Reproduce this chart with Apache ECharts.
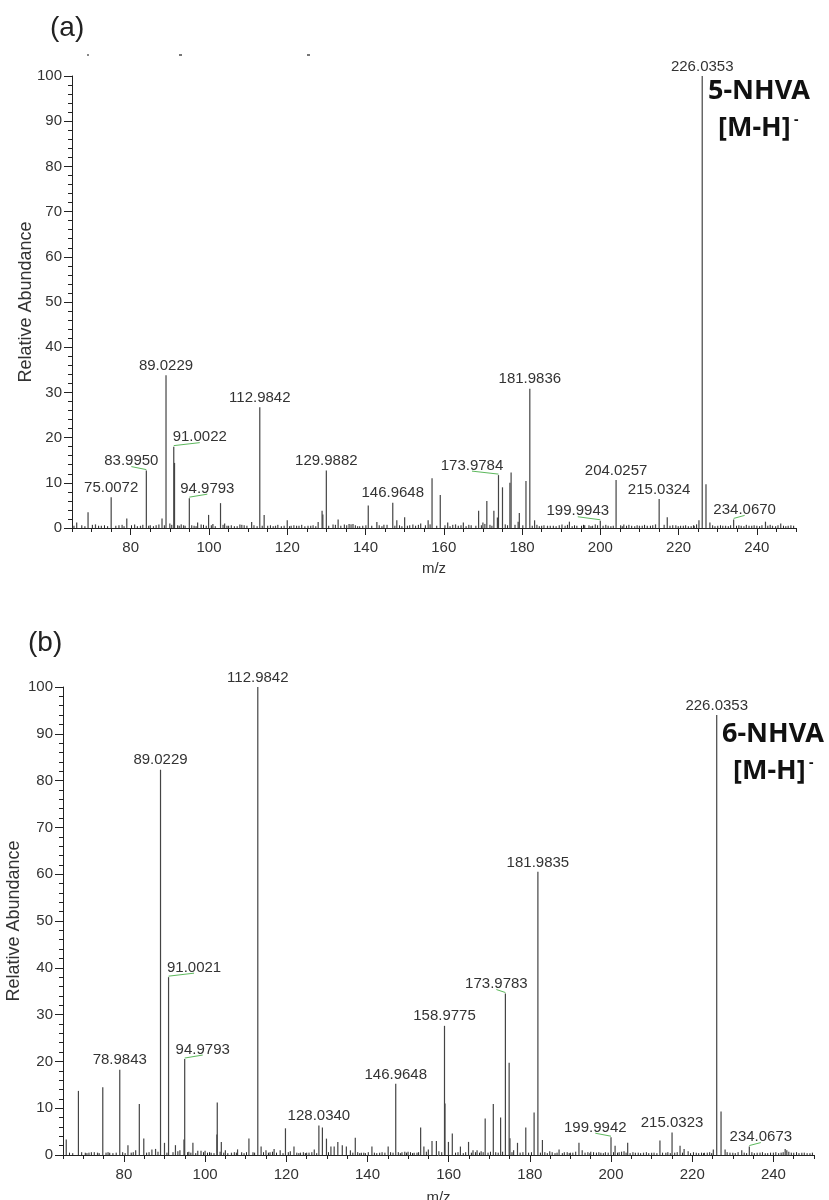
<!DOCTYPE html>
<html>
<head>
<meta charset="utf-8">
<script src="https://cdn.jsdelivr.net/npm/echarts@6/dist/echarts.min.js"></script>
<style>
html,body{margin:0;padding:0;background:#fff;}
#chart{width:829px;height:1200px;}
</style>
</head>
<body>
<div id="chart"></div>
<script>
// ---------- DATA ----------
const xTickLabels = [80, 100, 120, 140, 160, 180, 200, 220, 240];

// Panel (a): 5-NHVA  [m/z, relative abundance]
const peaksA = [
  [66.2,1.2],[69.1,3.5],[71.0,0.8],[72.5,0.5],[75.0072,6.8],[77.0,0.6],[79.0,2.1],[81.0,0.8],[82.5,0.5],
  [83.9950,12.7],[85.0,0.6],[86.5,0.6],[87.2,0.8],[88.0,2.1],[89.0229,33.8],[90.0,1.0],[91.0022,18.0],[91.2,14.4],
  [92.4,0.5],[93.5,0.6],[94.9793,6.6],[96.2,0.5],[97.1,1.2],[98.0,0.8],[99.9,2.9],[101.0,0.9],[102.95,5.5],
  [104.0,1.0],[105.0,0.5],[106.5,0.4],[107.9,0.8],[109.0,0.6],[110.9,1.3],[112.9842,26.7],[114.1,2.9],[115.0,0.5],
  [117.0,0.5],[118.5,0.4],[120.0,1.7],[121.0,0.5],[123.0,0.5],[124.5,0.4],[126.0,0.5],[127.9,1.3],[128.9,3.8],
  [129.1,3.0],[129.9882,12.7],[131.7,0.8],[133.0,1.9],[134.6,0.8],[135.8,0.9],[136.8,0.9],[138.5,0.4],[140.7,5.0],
  [142.9,1.3],[144.7,0.7],[146.9648,5.6],[148.0,1.7],[150.0,2.4],[152.1,0.8],[154.1,1.0],[156.0,1.7],[157.0,11.0],
  [159.1,7.3],[161.0,1.2],[163.0,0.8],[165.0,1.2],[167.0,0.6],[168.9,3.8],[170.0,1.2],[171.0,6.0],[172.8,3.8],
  [173.7,2.3],[173.9784,11.7],[175.0,9.0],[176.9,10.0],[177.2,12.3],[179.0,1.4],[179.3,3.3],[181.0,10.4],
  [181.9836,30.8],[183.2,1.7],[185.0,0.5],[186.5,0.5],[188.0,0.5],[190.2,0.8],[192.1,1.4],[194.0,0.5],[196.0,0.6],
  [198.0,0.5],[199.9943,1.6],[202.0,0.5],[204.0257,10.6],[206.0,0.8],[208.0,0.5],[210.0,0.5],[212.0,0.5],
  [214.1,0.8],[215.0324,6.4],[217.1,2.4],[218.5,0.6],[220.5,0.5],[222.5,0.4],[224.0,0.5],[225.2,1.7],
  [226.0353,100],[227.0,9.7],[228.0,1.2],[230.0,0.5],[232.0,0.5],[234.0670,1.9],[236.0,0.5],[238.0,0.5],
  [240.0,0.5],[242.2,1.4],[244.0,0.5],[246.1,1.0],[248.0,0.5]
];
// baseline noise, panel (a)
const noiseA = [
  [65.5,0.5],[67.5,0.6],[68.3,0.4],[70.2,0.7],[71.8,0.5],[73.3,0.6],[74.1,0.4],[76.2,0.5],[77.8,0.7],[78.3,0.4],
  [80.2,0.6],[81.7,0.4],[83.1,0.7],[84.6,0.5],[85.8,0.4],[88.6,0.6],[90.5,0.7],[92.0,0.6],[92.9,0.8],[93.9,0.5],
  [95.6,0.6],[96.7,0.4],[98.6,0.7],[99.3,0.5],[100.6,0.6],[101.6,0.4],[103.6,0.7],[104.6,0.5],[105.7,0.6],[107.2,0.4],
  [108.4,0.7],[109.7,0.5],[111.5,0.6],[112.3,0.4],[113.6,0.5],[115.7,0.6],[116.4,0.4],[117.6,0.7],[119.2,0.5],
  [120.6,0.4],[121.7,0.6],[122.4,0.5],[123.7,0.7],[125.3,0.5],[126.6,0.6],[127.3,0.4],[130.6,0.5],[132.3,0.7],
  [133.7,0.5],[135.2,0.6],[136.3,0.8],[137.4,0.6],[138.0,0.4],[139.3,0.5],[140.1,0.6],[141.6,0.5],[143.5,0.6],
  [144.2,0.4],[145.5,0.7],[147.5,0.5],[148.7,0.6],[149.3,0.4],[150.7,0.5],[151.3,0.6],[152.8,0.5],[153.5,0.7],
  [155.3,0.6],[156.5,0.8],[158.2,0.5],[160.3,0.6],[161.6,0.4],[162.3,0.7],[163.7,0.5],[164.4,0.6],[165.7,0.4],
  [166.4,0.7],[168.2,0.5],[169.6,0.6],[170.5,0.9],[171.8,0.7],[172.3,0.5],[175.7,0.8],[176.3,0.6],[178.2,0.7],
  [180.2,0.6],[182.6,0.5],[183.8,0.7],[184.4,0.4],[185.6,0.6],[187.2,0.5],[188.7,0.4],[189.5,0.6],[191.0,0.5],
  [191.6,0.7],[192.8,0.4],[193.4,0.6],[195.2,0.5],[195.7,0.7],[197.1,0.6],[197.6,0.4],[198.7,0.8],[199.3,0.6],
  [200.7,0.5],[201.4,0.7],[202.7,0.4],[203.3,0.5],[205.2,0.6],[205.6,0.4],[206.7,0.5],[207.3,0.7],[208.8,0.4],
  [209.4,0.6],[210.7,0.5],[211.3,0.7],[212.8,0.5],[213.4,0.6],[216.3,0.7],[217.8,0.5],[219.3,0.6],[219.9,0.4],
  [221.2,0.5],[221.8,0.6],[223.2,0.4],[223.8,0.6],[224.6,0.8],[228.7,0.6],[229.3,0.4],[230.7,0.6],[231.3,0.5],
  [232.7,0.4],[233.3,0.6],[234.8,0.5],[235.4,0.6],[236.7,0.4],[237.3,0.7],[238.7,0.5],[239.3,0.6],[240.7,0.4],
  [241.3,0.6],[242.8,0.5],[243.4,0.7],[244.8,0.4],[245.4,0.6],[246.8,0.5],[247.4,0.4],[248.7,0.6],[249.4,0.5]
];
const labelsA = [75.0072, 83.9950, 89.0229, 91.0022, 94.9793, 112.9842, 129.9882, 146.9648,
  173.9784, 181.9836, 199.9943, 204.0257, 215.0324, 226.0353, 234.0670];

// Panel (b): 6-NHVA
const peaksB = [
  [65.8,3.3],[68.8,13.7],[70.5,0.5],[72.0,0.6],[73.5,0.5],[74.8,14.5],[76.5,0.5],[78.9843,18.2],[81.0,2.1],
  [82.9,1.0],[83.8,10.9],[84.9,3.5],[86.9,1.2],[87.8,1.3],[89.0229,82.3],[90.0,2.6],[91.0021,38.0],[92.7,2.1],
  [93.8,1.0],[94.8,3.3],[94.9793,20.5],[96.0,0.7],[97.0,2.6],[98.2,0.9],[99.0,0.9],[100.0,0.9],[101.5,0.5],
  [102.9,4.4],[103.0,11.2],[104.0,2.8],[105.0,1.0],[106.5,0.5],[108.0,1.2],[109.0,0.6],[110.8,3.5],[111.8,0.6],
  [112.9842,100],[113.8,1.8],[115.0,1.0],[116.0,0.6],[117.0,1.3],[118.5,1.0],[119.8,5.7],[121.0,0.8],[121.9,1.8],
  [123.5,0.5],[125.0,0.5],[126.9,1.2],[128.0340,6.3],[128.9,5.9],[129.9,3.5],[131.0,1.8],[131.8,1.8],[132.7,2.8],
  [133.8,2.1],[134.8,1.8],[135.8,1.0],[137.0,3.7],[138.5,0.5],[139.5,0.4],[141.1,1.8],[143.0,0.5],[145.1,1.8],
  [146.9648,15.2],[148.5,0.6],[150.0,0.7],[151.5,0.5],[153.1,5.9],[153.9,1.8],[155.0,1.2],[155.9,3.0],[156.98,3.0],
  [158.9775,27.6],[159.1,11.0],[159.95,2.8],[160.9,4.6],[162.9,1.8],[164.9,2.8],[166.0,1.0],[167.0,1.0],[168.0,0.8],
  [169.0,7.8],[171.0,10.9],[172.8,8.0],[173.9783,34.5],[174.9,19.7],[175.1,3.6],[176.0,1.0],[176.96,2.6],[179.0,5.9],
  [181.05,9.1],[181.9835,60.5],[183.1,3.2],[184.9,0.8],[187.2,1.2],[188.5,0.6],[190.0,0.5],[192.1,2.6],[192.9,1.0],
  [195.0,0.7],[197.5,0.5],[199.9942,3.8],[201.0,2.0],[202.0,0.6],[203.2,0.8],[204.1,2.6],[206.0,0.5],[208.0,0.5],
  [210.0,0.5],[212.05,3.1],[213.5,0.5],[215.0323,4.8],[217.0,2.0],[218.0,1.3],[219.0,0.8],[221.0,0.5],[223.0,0.5],
  [225.2,1.2],[226.0353,94.0],[227.1,9.3],[228.1,1.2],[230.0,0.5],[232.2,1.0],[234.0673,1.8],[236.0,0.5],
  [238.0,0.4],[240.0,0.5],[242.9,1.3],[243.3,1.0],[245.0,0.5],[247.0,0.5],[249.0,0.4]
];
// baseline noise, panel (b)
const noiseB = [
  [66.6,0.5],[67.4,0.4],[69.6,0.6],[70.9,0.4],[71.4,0.5],[72.7,0.6],[73.9,0.4],[75.6,0.5],[76.1,0.6],[77.3,0.4],
  [78.1,0.5],[79.7,0.6],[80.3,0.4],[81.8,0.5],[82.3,0.6],[85.6,0.5],[86.2,0.6],[88.4,0.7],[90.6,0.5],[92.1,0.6],
  [93.3,0.8],[95.7,0.6],[96.5,0.5],[97.7,0.4],[99.6,0.6],[100.6,0.5],[101.1,0.6],[102.2,0.4],[103.7,0.7],[104.6,0.5],
  [105.6,0.4],[107.2,0.6],[107.7,0.5],[109.6,0.4],[110.2,0.6],[112.2,0.5],[114.4,0.6],[115.6,0.5],[116.6,0.7],
  [117.6,0.5],[119.2,0.4],[120.5,0.6],[122.6,0.5],[123.1,0.4],[124.2,0.6],[124.7,0.4],[125.6,0.5],[126.3,0.6],
  [127.5,0.4],[130.4,0.6],[136.4,0.5],[137.6,0.6],[138.1,0.4],[139.1,0.5],[140.2,0.6],[141.7,0.5],[142.3,0.4],
  [143.6,0.6],[144.3,0.5],[145.7,0.6],[146.3,0.5],[147.6,0.6],[148.1,0.4],[149.2,0.7],[149.6,0.5],[150.6,0.6],
  [151.1,0.4],[152.2,0.5],[152.6,0.6],[154.5,0.7],[157.6,0.8],[158.3,0.6],[161.7,0.5],[162.3,0.6],[163.6,0.4],
  [164.2,0.6],[165.6,0.5],[166.6,0.6],[167.6,0.5],[168.5,0.6],[169.7,0.5],[170.3,0.7],[171.6,0.6],[172.2,0.5],
  [173.3,0.7],[175.6,0.6],[177.6,0.5],[178.3,0.6],[179.7,0.5],[180.4,0.6],[182.6,0.5],[183.7,0.6],[184.3,0.4],
  [185.5,0.6],[186.2,0.4],[186.7,0.5],[188.0,0.4],[189.2,0.6],[189.7,0.4],[190.6,0.5],[191.3,0.7],[193.6,0.5],
  [194.3,0.6],[194.8,0.4],[195.7,0.6],[196.4,0.5],[197.0,0.6],[198.1,0.4],[198.6,0.6],[199.3,0.5],[200.6,0.6],
  [201.6,0.5],[202.6,0.7],[203.7,0.5],[204.7,0.4],[205.4,0.6],[206.7,0.5],[207.3,0.4],[208.7,0.6],[209.3,0.4],
  [210.6,0.5],[211.3,0.4],[212.7,0.5],[214.0,0.6],[214.6,0.4],[215.7,0.5],[216.3,0.6],[217.6,0.5],[219.6,0.4],
  [220.3,0.6],[221.6,0.4],[222.3,0.5],[222.8,0.4],[223.7,0.5],[224.3,0.6],[224.8,0.4],[228.6,0.6],[229.3,0.5],
  [230.6,0.4],[231.3,0.6],[232.8,0.5],[233.4,0.4],[234.7,0.6],[235.3,0.4],[236.7,0.5],[237.3,0.6],[238.6,0.4],
  [239.3,0.5],[240.6,0.6],[241.3,0.4],[241.9,0.5],[242.4,0.6],[243.8,0.7],[244.4,0.5],[245.7,0.6],[246.3,0.4],
  [247.6,0.5],[248.3,0.4],[249.6,0.5]
];
const labelsB = [78.9843, 89.0229, 91.0021, 94.9793, 112.9842, 128.0340, 146.9648, 158.9775,
  173.9783, 181.9835, 199.9942, 215.0323, 226.0353, 234.0673];

// ---------- STYLE (label horizontal shifts, px) ----------
const labelShiftA = {'83.9950': -15, '91.0022': 26, '94.9793': 18, '173.9784': -26.5, '199.9943': -22.5, '234.0670': 11};
const labelShiftB = {'91.0021': 25.5, '94.9793': 18, '173.9783': -9, '199.9942': -15.7, '234.0673': 11.5};

const FONT = '"Liberation Sans", Arial, Helvetica, sans-serif';
const PEAK_COLOR = '#444';
const NOISE_COLOR = '#222';
const AXIS_COLOR = '#222';
const TEXT_COLOR = '#333';

function heightOf(peaks, mz) {
  for (const p of peaks) if (Math.abs(p[0] - mz) < 1e-6) return p[1];
  return 0;
}

function peakSeries(peaks, idx, color, width) {
  return {
    type: 'custom', xAxisIndex: idx * 2, yAxisIndex: idx, coordinateSystem: 'cartesian2d',
    silent: true, clip: false,
    data: peaks,
    encode: {x: 0, y: 1},
    renderItem: function (params, api) {
      const x = api.value(0), y = api.value(1);
      const p0 = api.coord([x, 0]);
      const p1 = api.coord([x, y]);
      return {type: 'line', shape: {x1: p0[0], y1: p0[1], x2: p1[0], y2: p1[1]},
        style: {stroke: color, lineWidth: width}};
    }
  };
}

function labelSeries(peaks, labels, shifts, idx) {
  return {
    type: 'custom', xAxisIndex: idx * 2, yAxisIndex: idx, coordinateSystem: 'cartesian2d',
    silent: true, clip: false,
    data: labels.map(m => [m, heightOf(peaks, m)]),
    encode: {x: 0, y: 1},
    renderItem: function (params, api) {
      const x = api.value(0), y = api.value(1);
      const txt = x.toFixed(4);
      const dx = shifts[txt] || 0;
      const p = api.coord([x, y]);
      const children = [{
        type: 'text',
        style: {text: txt, x: p[0] + dx, y: p[1] - 2, align: 'center', verticalAlign: 'bottom',
          font: '15px ' + FONT, fill: TEXT_COLOR}
      }];
      if (dx !== 0) {
        children.push({type: 'line', shape: {x1: p[0], y1: p[1] - 1, x2: p[0] + dx, y2: p[1] - 4},
          style: {stroke: '#5cb85c', lineWidth: 1}});
      }
      return {type: 'group', children: children};
    }
  };
}

function xAxes(grid, gap) {
  return [{
    gridIndex: grid, type: 'value', position: 'bottom', min: 65, max: 250,
    axisLine: {show: true, onZero: false, lineStyle: {color: AXIS_COLOR, width: 1}},
    axisTick: {show: true, customValues: xTickLabels, length: 7, lineStyle: {color: AXIS_COLOR}},
    axisLabel: {show: true, customValues: xTickLabels, fontSize: 15, color: TEXT_COLOR, fontFamily: FONT, margin: 12},
    splitLine: {show: false},
    name: 'm/z', nameLocation: 'middle', nameGap: gap, nameMoveOverlap: false,
    nameTextStyle: {fontSize: 15, color: TEXT_COLOR, fontFamily: FONT}
  }, {
    gridIndex: grid, type: 'value', position: 'bottom', min: 65, max: 250, interval: 5,
    axisLine: {show: false},
    axisTick: {show: true, length: 4, lineStyle: {color: AXIS_COLOR}},
    axisLabel: {show: false},
    splitLine: {show: false}
  }];
}

function yAxis(grid, gap) {
  return {
    gridIndex: grid, type: 'value', min: 0, max: 100, interval: 10,
    axisLine: {show: true, lineStyle: {color: AXIS_COLOR, width: 1}},
    axisTick: {show: true, length: 8, lineStyle: {color: AXIS_COLOR}},
    minorTick: {show: true, splitNumber: 5, length: 4, lineStyle: {color: AXIS_COLOR}},
    axisLabel: {fontSize: 15, color: TEXT_COLOR, fontFamily: FONT, margin: 10},
    splitLine: {show: false}, minorSplitLine: {show: false},
    name: 'Relative Abundance', nameLocation: 'middle', nameGap: gap, nameRotate: 90, nameMoveOverlap: false,
    nameTextStyle: {fontSize: 18, color: TEXT_COLOR, fontFamily: FONT}
  };
}

const BOLD = '"Noto Sans", "Open Sans", sans-serif';
function annot(x1, y1, name, x2, y2) {
  return [
    {type: 'text', left: x1, top: y1, style: {text: name, font: 'bold 27px ' + BOLD, fill: '#111'}},
    {type: 'text', left: x2, top: y2, style: {text: '[M-H]', font: 'bold 27px ' + BOLD, fill: '#111'}},
    {type: 'text', left: x2 + 76, top: y2 - 2, style: {text: '-', font: 'bold 14px ' + BOLD, fill: '#111'}}
  ];
}

const chart = echarts.init(document.getElementById('chart'), null, {renderer: 'canvas'});
chart.setOption({
  backgroundColor: '#fff',
  animation: false,
  grid: [
    {left: 72, top: 76, width: 724, height: 452, outerBoundsMode: 'none', containLabel: false},
    {left: 63, top: 687, width: 751, height: 468, outerBoundsMode: 'none', containLabel: false}
  ],
  xAxis: xAxes(0, 33).concat(xAxes(1, 35)),
  yAxis: [yAxis(0, 37), yAxis(1, 40)],
  series: [
    peakSeries(noiseA, 0, NOISE_COLOR, 1), peakSeries(peaksA, 0, PEAK_COLOR, 1.2),
    labelSeries(peaksA, labelsA, labelShiftA, 0),
    peakSeries(noiseB, 1, NOISE_COLOR, 1), peakSeries(peaksB, 1, PEAK_COLOR, 1.2),
    labelSeries(peaksB, labelsB, labelShiftB, 1)
  ],
  graphic: [
    {type: 'text', left: 50, top: 14, style: {text: '(a)', font: '28px ' + FONT, fill: '#222'}},
    {type: 'text', left: 28, top: 629, style: {text: '(b)', font: '28px ' + FONT, fill: '#222'}},
    {type: 'rect', left: 87, top: 54, shape: {width: 2, height: 2}, style: {fill: '#888'}},
    {type: 'rect', left: 179, top: 54, shape: {width: 3, height: 2}, style: {fill: '#777'}},
    {type: 'rect', left: 307, top: 54, shape: {width: 3, height: 2}, style: {fill: '#777'}}
  ].concat(annot(708, 78, '5-NHVA', 718, 115)).concat(annot(722, 721, '6-NHVA', 733, 758))
});
</script>
</body>
</html>
